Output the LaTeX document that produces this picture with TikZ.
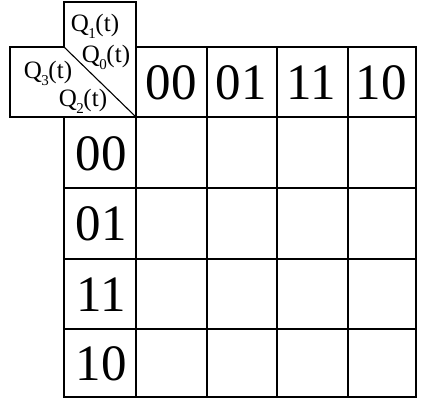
\documentclass[tikz,border=0pt]{standalone}
\usepackage{fontspec}
\setmainfont{Liberation Serif}
\newcommand\qlab[1]{Q\kern-0.5pt\raisebox{-0.28em}{\fontsize{15}{15}\selectfont #1}\kern-0.5pt(t)}
\begin{document}
\begin{tikzpicture}[x=1pt,y=-1pt,
  big/.style={font=\fontsize{51}{51}\selectfont, inner sep=0pt},
  qtxt/.style={font=\fontsize{25}{25}\selectfont, inner sep=0pt},
  thin/.style={line width=1.1pt},
  thick/.style={line width=1.8pt}]
\useasboundingbox (0,0) rectangle (433,415);
% corner boxes
\coordinate (ut) at (64,2);
\coordinate (ur) at (136,2);
\coordinate (lt) at (10,47);
\coordinate (lm) at (64,47);
\coordinate (lb) at (10,117);
\coordinate (c) at (136,117);
\draw[thin] (lm) -- (ut) -- (ur) -- (c);
\draw[thin] (lm) -- (lt) -- (lb) -- (c);
\draw[thin] (lm) -- (c);
% grid lines
\draw[thin] (136,47) -- (416,47);
\foreach \y in {188,259,329} \draw[thin] (64,\y) -- (416,\y);
\draw[thin] (64,117) -- (416,117);
\foreach \x in {207,277,348} \draw[thin] (\x,47) -- (\x,397);
\draw[thin] (136,117) -- (136,397);
\draw[thick] (136,47) -- (416,47) -- (416,397) -- (64,397) -- (64,117);
% labels
\node[qtxt] (q1) at (95,26) {\qlab{1}};
\node[qtxt] (q0) at (106,57) {\qlab{0}};
\node[qtxt] (q3) at (48,73) {\qlab{3}};
\node[qtxt] (q2) at (83,101) {\qlab{2}};
\node[big] (c00) at (171,83) {00};
\node[big] (c01) at (241,83) {01};
\node[big] (c11) at (311,83) {11};
\node[big] (c10) at (381,83) {10};
\node[big] (r00) at (101,154) {00};
\node[big] (r01) at (101,224) {01};
\node[big] (r11) at (101,295) {11};
\node[big] (r10) at (101,364) {10};
\end{tikzpicture}
\end{document}
